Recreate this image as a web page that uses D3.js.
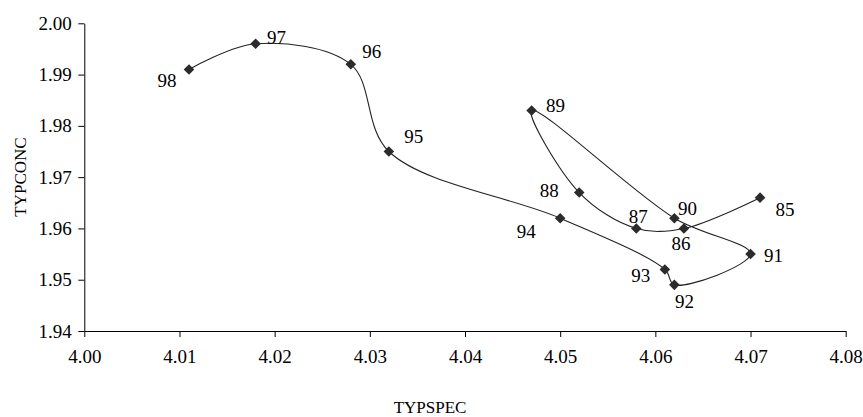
<!DOCTYPE html>
<html>
<head>
<meta charset="utf-8">
<script src="https://cdn.jsdelivr.net/npm/d3@7"></script>
<style>
    body { margin: 0; background: #fff; }
    svg text { font-family: "Liberation Serif", "Times New Roman", serif; fill: #000; }
</style>
</head>
<body>
<svg id="chart" width="863" height="417"></svg>
<script>
// Years shown next to each point, in the order the line is drawn
const years = ["85", "86", "87", "88", "89", "90", "91", "92", "93", "94", "95", "96", "97", "98"];
// TYPSPEC (x) and TYPCONC (y) values
const typspec = [4.071, 4.063, 4.058, 4.052, 4.047, 4.062, 4.070, 4.062, 4.061, 4.050, 4.032, 4.028, 4.018, 4.011];
const typconc = [1.966, 1.960, 1.960, 1.967, 1.983, 1.962, 1.955, 1.949, 1.952, 1.962, 1.975, 1.992, 1.996, 1.991];

const xTicks = [4.00, 4.01, 4.02, 4.03, 4.04, 4.05, 4.06, 4.07, 4.08];
const yTicks = [1.94, 1.95, 1.96, 1.97, 1.98, 1.99, 2.00];

// Where each year label sits relative to its marker (dx, dy)
const labelOffsets = {
    "85": [25, 12], "86": [-3, 15], "87": [2, -12], "88": [-30, -2],
    "89": [24, -5], "90": [13, -10], "91": [23, 1], "92": [10, 17],
    "93": [-24, 6], "94": [-34, 13], "95": [25, -15], "96": [21, -13],
    "97": [21, -6], "98": [-22, 11]
};

const FONT = '"Liberation Serif", "Times New Roman", serif';
const svg = d3.select("#chart");
const plotLeft = 84.3, plotRight = 845.7, plotTop = 23.3, plotBottom = 331;

const x = d3.scaleLinear().domain([4.00, 4.08]).range([plotLeft, plotRight]);
const y = d3.scaleLinear().domain([1.94, 2.00]).range([plotBottom, plotTop]);

const points = years.map((yr, i) => ({ year: yr, x: typspec[i], y: typconc[i] }));

// Axes
const xAxis = svg.append("g")
    .attr("transform", `translate(0,${plotBottom})`)
    .call(d3.axisBottom(x).tickValues(xTicks).tickFormat(d3.format(".2f"))
        .tickSize(6).tickPadding(13).tickSizeOuter(0));

const yAxis = svg.append("g")
    .attr("transform", `translate(${plotLeft},0)`)
    .call(d3.axisLeft(y).tickValues(yTicks).tickFormat(d3.format(".2f"))
        .tickSize(6).tickPadding(6.5).tickSizeOuter(0));

[xAxis, yAxis].forEach(g => {
    g.attr("font-family", FONT).attr("font-size", 19);
    g.selectAll("text").style("font-family", FONT).style("font-size", "19px").attr("fill", "#000");
    g.selectAll("line, path").attr("stroke", "#000").attr("stroke-width", 1);
});

// Axis titles
svg.append("text")
    .attr("x", 430).attr("y", 413)
    .attr("text-anchor", "middle")
    .style("font-family", FONT)
    .style("font-size", "17px")
    .text("TYPSPEC");

svg.append("text")
    .attr("transform", "translate(26,177) rotate(-90)")
    .attr("text-anchor", "middle")
    .style("font-family", FONT)
    .style("font-size", "17px")
    .text("TYPCONC");

// Smoothed line through the years
const line = d3.line()
    .x(d => x(d.x))
    .y(d => y(d.y))
    .curve(d3.curveCatmullRom.alpha(0.5));

svg.append("path")
    .datum(points)
    .attr("fill", "none")
    .attr("stroke", "#222")
    .attr("stroke-width", 1.1)
    .attr("d", line);

// Diamond markers
svg.append("g")
    .selectAll("path")
    .data(points)
    .join("path")
    .attr("transform", d => `translate(${x(d.x)},${y(d.y)}) rotate(45)`)
    .attr("d", d3.symbol().type(d3.symbolSquare).size(56))
    .attr("fill", "#2b2b2b");

// Year labels
svg.append("g")
    .selectAll("text")
    .data(points)
    .join("text")
    .attr("x", d => x(d.x) + labelOffsets[d.year][0])
    .attr("y", d => y(d.y) + labelOffsets[d.year][1])
    .attr("dy", "0.35em")
    .attr("text-anchor", "middle")
    .style("font-family", FONT)
    .style("font-size", "19px")
    .text(d => d.year);
</script>
</body>
</html>
